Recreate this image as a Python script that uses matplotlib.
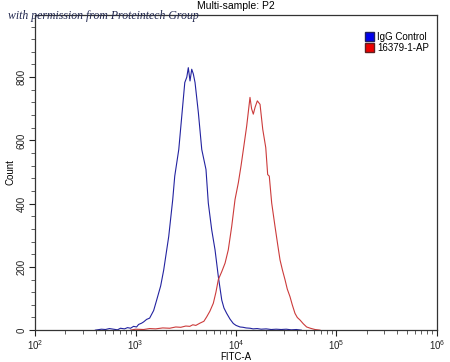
import matplotlib
matplotlib.use("Agg")
import matplotlib.pyplot as plt
from matplotlib.patches import Patch
from matplotlib.ticker import LogLocator, MultipleLocator, NullFormatter

plt.rcParams["font.family"] = ["Liberation Sans", "DejaVu Sans"]

# histogram outlines: log10(FITC-A) and count
igg_log = [2.60, 2.66, 2.70, 2.74, 2.78, 2.82, 2.85, 2.89, 2.92, 2.95, 2.98,
           3.01, 3.03, 3.06, 3.08, 3.11, 3.14, 3.18, 3.21, 3.25, 3.28, 3.33,
           3.37, 3.39, 3.43, 3.46, 3.49, 3.51, 3.525, 3.542, 3.559, 3.575,
           3.592, 3.625, 3.659, 3.701, 3.724, 3.758, 3.791, 3.824, 3.858,
           3.88, 3.907, 3.94, 3.973, 4.00, 4.04, 4.07, 4.10, 4.14, 4.17, 4.21,
           4.25, 4.30, 4.35, 4.40, 4.45, 4.50, 4.55, 4.60, 4.65]
igg_count = [0, 3, 2, 5, 3, 1, 6, 4, 8, 6, 12, 10, 18, 22, 26, 34, 38, 62,
             95, 140, 190, 296, 413, 487, 571, 677, 783, 800, 830, 788, 825,
             810, 783, 688, 571, 508, 402, 317, 254, 169, 95, 70, 53, 35, 21,
             15, 10, 9, 7, 6, 4, 5, 3, 4, 2, 3, 2, 3, 1, 2, 0]

ap_log = [2.95, 3.00, 3.08, 3.14, 3.20, 3.27, 3.34, 3.40, 3.45, 3.50, 3.54,
          3.57, 3.60, 3.64, 3.68, 3.708, 3.74, 3.774, 3.80, 3.824, 3.858,
          3.891, 3.923, 3.957, 3.990, 4.023, 4.05, 4.073, 4.106, 4.139,
          4.155, 4.172, 4.19, 4.212, 4.239, 4.266, 4.296, 4.315, 4.331,
          4.355, 4.388, 4.415, 4.438, 4.462, 4.488, 4.51, 4.537, 4.56, 4.587,
          4.61, 4.637, 4.67, 4.703, 4.74, 4.786, 4.836]
ap_count = [0, 3, 2, 5, 4, 7, 6, 10, 9, 13, 12, 17, 15, 22, 28, 42, 60, 85,
            120, 160, 185, 212, 254, 328, 413, 466, 520, 571, 645, 736, 700,
            683, 705, 725, 714, 635, 577, 492, 487, 402, 328, 270, 222, 190,
            159, 130, 106, 80, 53, 40, 32, 20, 10, 6, 2, 0]

igg_x = [10 ** v for v in igg_log]
ap_x = [10 ** v for v in ap_log]

fig = plt.figure(figsize=(4.5, 3.62), dpi=100)
ax = fig.add_axes([0.078, 0.088, 0.893, 0.871])

ax.plot(igg_x, igg_count, color="#2323a0", linewidth=0.8)
ax.plot(ap_x, ap_count, color="#cc3b3b", linewidth=0.8)

ax.set_xscale("log")
ax.set_xlim(1e2, 1e6)
ax.set_ylim(0, 997)
ax.xaxis.set_major_locator(LogLocator(base=10, numticks=10))
ax.xaxis.set_minor_locator(LogLocator(base=10, subs=range(2, 10), numticks=20))
ax.xaxis.set_minor_formatter(NullFormatter())
ax.yaxis.set_major_locator(MultipleLocator(200))
ax.yaxis.set_minor_locator(MultipleLocator(40))

ax.tick_params(which="major", direction="out", length=4, width=0.8, pad=2,
               labelsize=7, colors="#222222")
ax.tick_params(which="minor", direction="out", length=3, width=0.6,
               colors="#444444")
for lab in ax.get_yticklabels():
    lab.set_rotation(90)
    lab.set_va("center")

for spine in ax.spines.values():
    spine.set_color("#333333")
    spine.set_linewidth(0.9)

ax.set_xlabel("FITC-A", fontsize=7, labelpad=0)
ax.set_ylabel("Count", fontsize=7, labelpad=1)
fig.text(0.525, 0.983, "Multi-sample: P2", ha="center", va="center", fontsize=7.5)
fig.text(0.018, 0.955, "with permission from Proteintech Group", ha="left",
         va="center", fontsize=8.5, style="italic", family="Liberation Serif",
         color="#22284f")

handles = [Patch(facecolor="#0000ee", edgecolor="#202060", label="IgG Control"),
           Patch(facecolor="#ee0000", edgecolor="#602020", label="16379-1-AP")]
ax.legend(handles=handles, loc="upper right", bbox_to_anchor=(0.995, 0.965),
          frameon=False, fontsize=7, handlelength=1.0, handleheight=1.0,
          handletextpad=0.3, labelspacing=0.1, borderaxespad=0.2)

fig.savefig("out.png", dpi=100)
